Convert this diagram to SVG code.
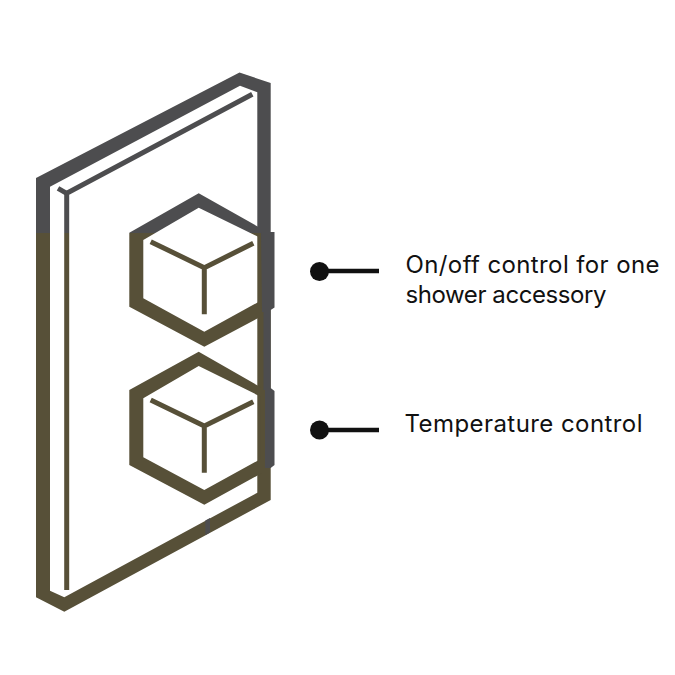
<svg xmlns="http://www.w3.org/2000/svg" width="675" height="675" viewBox="0 0 675 675">
<style>
.g{fill:#4d4d4f}.o{fill:#575038}
.oy{fill:none;stroke:#575038;stroke-width:5}
.gy{fill:none;stroke:#4d4d4f;stroke-width:5}
.t{font-family:"Inter","Liberation Sans",sans-serif;font-size:24px;font-weight:400;fill:#111}
.c{stroke:#111;stroke-width:4.300;fill:none}
</style>
<defs>
<linearGradient id="split" gradientUnits="userSpaceOnUse" x1="0" y1="0" x2="0" y2="675">
<stop offset="0" stop-color="#4d4d4f"/><stop offset="0.3447" stop-color="#4d4d4f"/><stop offset="0.3447" stop-color="#575038"/><stop offset="1" stop-color="#575038"/>
</linearGradient>
</defs>
<rect width="675" height="675" fill="#fff"/>
<g id="panel">
<path fill="url(#split)" fill-rule="evenodd" d="M36 178 L239.500 72.500 L270.700 83 V500 L64.300 611.700 L36 597.300 Z M50 186.700 V590.700 L64.300 597.300 L257.300 492.700 V92.300 L240 85.700 Z"/>
<path d="M252.300 94.300 L66.700 193.300 V590" fill="none" stroke="url(#split)" stroke-width="5"/>
<path d="M58 188.300 L66.700 193.300" class="gy"/>
<path class="g" d="M205.300 520.500 L210 518 V532.500 L205.300 535 Z"/>
</g>
<g id="knob-upper">
<path fill="url(#split)" fill-rule="evenodd" d="M198.700 193.300 L262 229 V316 L204.300 346.700 L129.300 306.700 V232.700 Z M198.700 207.700 L143.300 240 V298.300 L204.300 331.700 L260.700 300.700 V238 Z"/>
<path class="oy" d="M150.700 241.700 L204.300 267.700 M253.300 243.300 L204.300 267.700 V314.300"/>
</g>
<g id="knob-lower">
<path class="o" fill-rule="evenodd" d="M198.700 351.700 L262 388 V473 L204.300 504.700 L129.300 465 V390 Z M198.700 366 L143.300 398.300 V457.300 L204.300 490 L260.700 459 V396.700 Z"/>
<path class="oy" d="M150.700 400 L204.300 426 M253.300 401.700 L204.300 426 V472.700"/>
</g>
<path id="side-tabs" class="g" d="M261 232 H274.500 V307.500 L270.700 310 V388 L274.500 391 V465 L270.700 468 H265 V390 H263.500 V312 H262 Z"/>
<g id="connectors">
<path class="c" d="M320 271 H379 M320 430 H379"/>
<circle cx="319.500" cy="271.500" r="9.500" fill="#111"/>
<circle cx="319.500" cy="430" r="9.500" fill="#111"/>
</g>
<g id="label-onoff"><text class="t" x="405.500" y="273" textLength="254">On/off control for one</text><text class="t" x="405.500" y="302.500" textLength="201">shower accessory</text></g>
<g id="label-temp"><text class="t" x="404.500" y="432" textLength="238">Temperature control</text></g>
</svg>
